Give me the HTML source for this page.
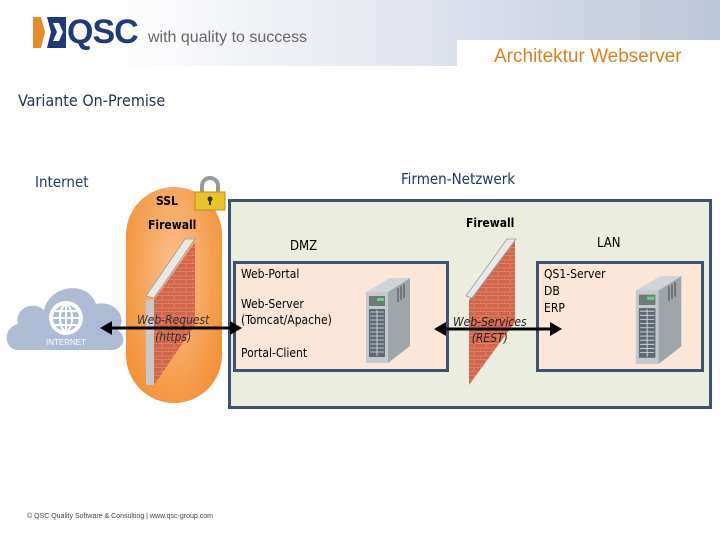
<!DOCTYPE html>
<html><head><meta charset="utf-8"><style>
body{margin:0;width:720px;height:540px;overflow:hidden;background:#fff;font-family:"Liberation Sans",sans-serif;position:relative}
.t{position:absolute;font-family:"DejaVu Sans Condensed","Liberation Sans",sans-serif;color:#000;font-size:12px;white-space:nowrap}
</style></head><body>
<div style="position:absolute;left:0;top:0;width:720px;height:66px;background:linear-gradient(90deg,#fff 0%,#fff 15%,#e3e6ef 55%,#bcc6da 100%)"></div>
<div style="position:absolute;left:457px;top:40px;width:263px;height:26px;background:#fff"></div>
<svg style="position:absolute;left:32px;top:16px" width="36" height="34">
<polygon points="1,1 10,1 14,16 10,32 1,32" fill="#e8892a"/>
<polygon points="9,1 16,1 20,16 16,32 9,32 13,16" fill="#fff"/>
<polygon points="15,1 34,1 34,32 15,32 19,16" fill="#1e3a78"/>
<polygon points="21,7 27,7 31,16 27,25 21,25 25,16" fill="#fff"/>
</svg>
<div style="position:absolute;left:67px;top:13px;font:bold 34px 'Liberation Sans',sans-serif;color:#1e3a78;letter-spacing:-1px">QSC</div>
<div style="position:absolute;left:148px;top:29px;font:16px 'Liberation Sans',sans-serif;color:#666">with quality to success</div>
<div style="position:absolute;left:494px;top:46px;font:19px 'Liberation Sans',sans-serif;color:#d9801e">Architektur Webserver</div>
<div class="t" style="left:18px;top:91px;font-size:16px;color:#1f2f55">Variante On-Premise</div>
<div class="t" style="left:35px;top:173px;font-size:15px;color:#1f3864">Internet</div>
<div class="t" style="left:401px;top:170px;font-size:15px;color:#1f3864">Firmen-Netzwerk</div>
<svg style="position:absolute;left:0;top:270px" width="130" height="90">
<path d="M18,80 C4,80 2,58 18,54 C14,38 34,30 44,40 C50,14 88,10 96,34 C116,30 128,48 118,60 C130,70 120,82 108,80 Z" fill="#aebbd6"/>
<circle cx="66" cy="48" r="17" fill="#fff"/>
<circle cx="66" cy="48" r="13" fill="#aebbd6"/>
<g stroke="#fff" stroke-width="2" fill="none"><ellipse cx="66" cy="48" rx="6" ry="13"/><line x1="53" y1="48" x2="79" y2="48"/><line x1="66" y1="35" x2="66" y2="61"/><line x1="55" y1="41" x2="77" y2="41"/><line x1="55" y1="55" x2="77" y2="55"/></g>
<text x="66" y="75" font-size="8" fill="#fff" text-anchor="middle" font-family="Liberation Sans">INTERNET</text>
</svg>
<div style="position:absolute;left:126px;top:187px;width:96px;height:216px;border-radius:48px;background:radial-gradient(ellipse at 50% 40%,#fbc28c,#f3923a 80%)"></div>
<div style="position:absolute;left:228px;top:199px;width:478px;height:204px;border:3px solid #3c5270;background:#ebeedf"></div>
<div style="position:absolute;left:233px;top:261px;width:210px;height:105px;border:3px solid #3c5270;background:#fbe6d8"></div>
<div style="position:absolute;left:536px;top:261px;width:162px;height:105px;border:3px solid #3c5270;background:#fbe6d8"></div>
<svg style="position:absolute;left:192px;top:175px" width="36" height="38">
<path d="M10,18 V11 a8,8 0 0 1 16,0 V18" fill="none" stroke="#999" stroke-width="4"/>
<rect x="3" y="17" width="30" height="18" fill="#e8c42a" stroke="#b39317"/>
<circle cx="18" cy="24" r="2.5" fill="#333"/><rect x="17" y="25" width="2" height="5" fill="#333"/>
</svg>
<div class="t" style="left:156px;top:194px;font-weight:bold">SSL</div>
<div class="t" style="left:148px;top:218px;font-weight:bold">Firewall</div>
<div class="t" style="left:466px;top:216px;font-weight:bold">Firewall</div>
<div class="t" style="left:290px;top:239px;font-size:13px">DMZ</div>
<div class="t" style="left:597px;top:236px;font-size:13px">LAN</div>
<svg style="position:absolute;left:0;top:0" width="720" height="540">
<defs><pattern id="b" width="12" height="8" patternUnits="userSpaceOnUse"><rect width="12" height="8" fill="#d2644a"/><path d="M0,7.5H12M6,0V4M0,4H12M0,4V8" stroke="#e48a72" stroke-width="0.8"/></pattern></defs>
<polygon points="154,300 195,242 195,325 154,385" fill="url(#b)"/>
<polygon points="146,300 154,300 154,385 146,385" fill="#c9c9c9"/>
<polygon points="146,296 185,239 195,239 154,298" fill="#e8e8e8" stroke="#999" stroke-width="0.8"/>
<polygon points="469,300 515,241 515,322 469,385" fill="url(#b)"/>
<polygon points="466,296 507,239 516,239 472,298" fill="#e8e8e8" stroke="#999" stroke-width="0.8"/>
<g stroke="#000" stroke-width="3"><line x1="108" y1="328" x2="234" y2="328"/><line x1="442" y1="329" x2="554" y2="329"/></g>
<polygon points="100,328 112,321 112,335"/><polygon points="242,328 230,321 230,335"/>
<polygon points="434,329 446,322 446,336"/><polygon points="562,329 550,322 550,336"/>
<symbol id="s" viewBox="0 0 50 85"><polygon points="4,14 26,14 48,0 28,0" fill="#d0d4d8"/><polygon points="26,14 48,0 48,68 26,85" fill="#9ea5ab"/><rect x="4" y="14" width="22" height="71" fill="#c4c9ce"/><rect x="7" y="18" width="16" height="10" fill="#6d7a7a"/><rect x="15" y="20" width="7" height="3" fill="#6fd08a"/><rect x="7" y="31" width="16" height="48" fill="#5e6a70"/><g stroke="#dde" stroke-width="0.8"><path d="M8,34H22M8,38H22M8,42H22M8,46H22M8,50H22M8,54H22M8,58H22M8,62H22M8,66H22M8,70H22M8,74H22M15,32V78"/></g><g stroke="#666" stroke-width="1.5"><path d="M36,10V24M39,8V22M42,6V20"/></g></symbol>
<use href="#s" x="362" y="278" width="50" height="85"/>
<use href="#s" x="630" y="276" width="55" height="88"/>
</svg>
<div class="t" style="left:241px;top:267px">Web-Portal</div>
<div class="t" style="left:241px;top:296px;line-height:16px">Web-Server<br>(Tomcat/Apache)</div>
<div class="t" style="left:241px;top:346px">Portal-Client</div>
<div class="t" style="left:544px;top:266px;line-height:17px">QS1-Server<br>DB<br>ERP</div>
<div class="t" style="left:137px;top:312px;font-style:italic;text-align:center;line-height:17px;color:#333">Web-Request<br>(https)</div>
<div class="t" style="left:453px;top:314px;font-style:italic;text-align:center;line-height:16px;color:#222">Web-Services<br>(REST)</div>
<div style="position:absolute;left:27px;top:513px;font:7px 'Liberation Sans',sans-serif;color:#444">© QSC Quality Software &amp; Consulting | www.qsc-group.com</div>
</body></html>
